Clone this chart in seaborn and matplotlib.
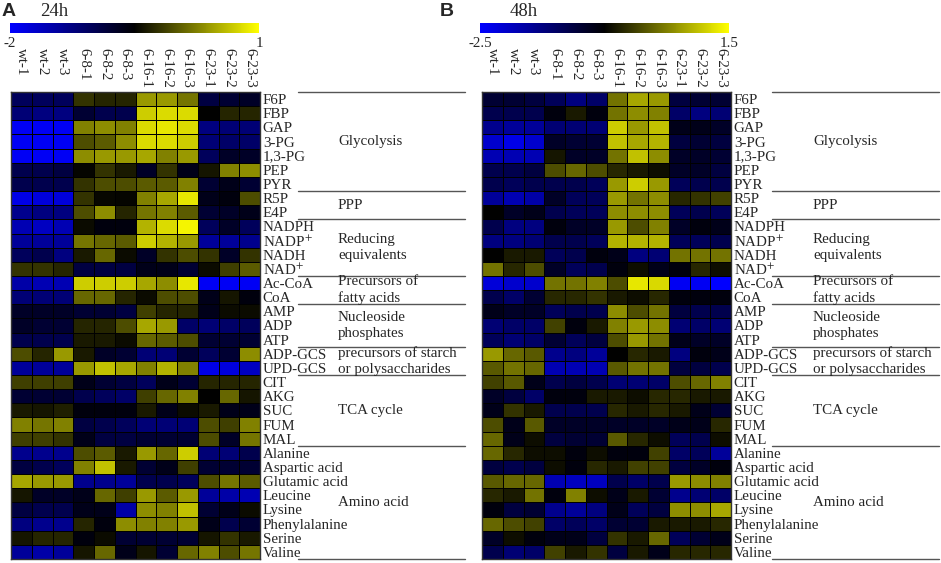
import numpy as np
import pandas as pd
import seaborn as sns
import matplotlib
matplotlib.use("Agg")
import matplotlib.pyplot as plt
from matplotlib.colors import LinearSegmentedColormap, Normalize
from matplotlib.cm import ScalarMappable
from matplotlib.transforms import blended_transform_factory
from matplotlib.lines import Line2D

# ---------------- data ----------------
samples = ["wt-1", "wt-2", "wt-3", "6-8-1", "6-8-2", "6-8-3",
           "6-16-1", "6-16-2", "6-16-3", "6-23-1", "6-23-2", "6-23-3"]

metabolites = ["F6P", "FBP", "GAP", "3-PG", "1,3-PG", "PEP", "PYR", "R5P", "E4P",
               "NADPH", "NADP$^{+}$", "NADH", "NAD$^{+}$", "Ac-CoA", "CoA", "AMP", "ADP",
               "ATP", "ADP-GCS", "UPD-GCS", "CIT", "AKG", "SUC", "FUM", "MAL",
               "Alanine", "Aspartic acid", "Glutamic acid", "Leucine", "Lysine",
               "Phenylalanine", "Serine", "Valine"]

group_names = ["Glycolysis", "PPP", "Reducing\nequivalents", "Precursors of\nfatty acids",
               "Nucleoside\nphosphates", "precursors of starch\nor polysaccharides",
               "TCA cycle", "Amino acid"]
group_bounds = [0, 7, 9, 13, 15, 18, 20, 25, 33]

values_24h = [
    [-1.03, -1.03, -1.03, -0.20, -0.28, -0.28, 0.40, 0.40, 0.18, -0.88, -0.80, -0.73],
    [-1.18, -1.25, -1.25, -0.80, -0.95, -0.95, 0.70, 0.78, 0.78, -0.50, -0.28, -0.28],
    [-1.93, -1.93, -1.93, 0.25, 0.33, 0.25, 0.78, 0.85, 0.78, -1.25, -1.18, -1.18],
    [-1.93, -1.93, -1.93, -0.05, 0.03, 0.33, 0.78, 0.78, 0.70, -1.18, -1.10, -1.10],
    [-1.93, -1.93, -1.93, 0.33, 0.40, 0.40, 0.48, 0.25, 0.40, -1.03, -0.73, -0.73],
    [-0.95, -0.95, -0.88, -0.47, -0.20, -0.35, -0.73, -0.20, -0.65, -0.38, 0.25, 0.33],
    [-0.95, -0.95, -0.95, -0.20, -0.05, -0.05, 0.03, 0.03, 0.25, -0.80, -0.65, -0.80],
    [-1.85, -1.78, -1.78, -0.20, -0.46, -0.47, 0.25, 0.48, 0.85, -0.65, -0.58, -0.05],
    [-1.33, -1.25, -1.25, -0.05, 0.33, -0.28, 0.18, 0.25, 0.03, -0.80, -0.73, -0.65],
    [-1.55, -1.63, -1.55, -0.43, -0.58, -0.58, 0.55, 0.78, 0.93, -1.03, -0.73, -1.03],
    [-1.40, -1.40, -1.40, 0.18, 0.10, 0.03, 0.70, 0.55, 0.40, -1.40, -1.40, -1.33],
    [-1.03, -0.95, -1.25, -0.35, 0.10, -0.43, -0.73, -0.20, -0.05, -0.20, -0.73, -0.20],
    [-0.20, -0.20, -0.28, -0.88, -0.88, -0.88, -0.65, -0.65, -0.80, -0.43, -0.13, 0.03],
    [-1.48, -1.55, -1.55, 0.70, 0.70, 0.70, 0.48, 0.33, 0.85, -1.93, -1.93, -1.93],
    [-1.18, -1.18, -1.18, 0.10, 0.10, -0.28, -0.43, -0.05, -0.05, -0.65, -0.38, -0.58],
    [-0.73, -0.73, -0.73, -0.80, -0.80, -0.88, -0.13, -0.28, -0.28, -0.65, -0.43, -0.43],
    [-0.73, -0.80, -0.80, -0.28, -0.28, -0.05, 0.48, 0.40, -1.10, -1.18, -1.10, -1.03],
    [-0.95, -0.95, -0.95, -0.35, -0.35, -0.43, 0.10, 0.03, -0.05, -0.80, -0.80, -0.80],
    [-0.05, -0.28, 0.40, -0.35, -0.73, -0.80, -1.18, -1.18, -0.80, -1.03, -0.80, 0.33],
    [-1.40, -1.40, -1.40, 0.40, 0.63, 0.48, 0.25, 0.55, 0.25, -1.85, -1.78, -1.63],
    [-0.13, -0.13, -0.13, -0.65, -0.80, -0.88, -1.03, -0.65, -0.80, -0.28, -0.28, -0.28],
    [-0.80, -0.80, -0.80, -0.95, -1.03, -1.10, -0.13, 0.10, 0.25, -0.50, 0.10, -0.38],
    [-0.35, -0.38, -0.32, -0.58, -0.58, -0.58, -0.35, -0.65, -0.43, -0.35, -0.65, -0.65],
    [0.25, 0.18, 0.25, -0.88, -0.95, -1.03, -1.18, -1.18, -1.18, -0.05, -0.13, 0.25],
    [-0.13, -0.13, -0.20, -0.65, -0.88, -0.88, -0.80, -0.80, -0.80, -0.05, -0.73, 0.18],
    [-1.33, -1.33, -1.33, -0.05, 0.03, -0.35, 0.40, 0.10, 0.70, -1.18, -1.18, -0.95],
    [-0.88, -0.95, -1.03, 0.25, 0.63, -0.35, -0.80, -0.65, -0.13, -0.80, -0.80, -0.80],
    [0.48, 0.40, 0.40, -1.33, -1.33, -1.40, -0.95, -0.95, -1.03, -0.05, 0.18, 0.03],
    [-0.38, -0.73, -0.73, -0.65, 0.10, -0.13, 0.40, 0.03, 0.40, -1.40, -1.48, -1.55],
    [-0.88, -0.95, -0.95, -0.65, -0.65, -1.48, 0.33, 0.25, 0.63, -0.80, -0.65, -0.43],
    [-1.25, -1.33, -1.33, -0.28, -0.58, 0.33, 0.25, 0.25, 0.40, -0.65, -0.95, -0.80],
    [-0.38, -0.28, -0.28, -0.58, -0.43, -0.80, -0.80, -0.80, -0.80, -0.38, -0.20, -0.35],
    [-1.40, -1.48, -1.40, -0.38, 0.10, -0.65, -0.38, -0.80, 0.10, 0.25, -0.05, 0.18],
]

values_48h = [
    [-0.9, -0.9, -1.0, -1.2, -1.5, -1.3, 0.4, 0.8, 0.7, -1.0, -0.9, -0.9],
    [-1.1, -1.1, -1.1, -0.6, -0.3, -0.6, 0.4, 0.6, 0.5, -1.3, -1.5, -1.4],
    [-1.6, -1.7, -1.7, -1.4, -1.4, -1.4, 1.1, 0.7, 1.0, -0.7, -0.7, -0.8],
    [-2.1, -2.3, -2.1, -0.8, -0.9, -0.9, 1.0, 0.8, 0.9, -1.0, -0.9, -1.0],
    [-1.9, -1.9, -1.9, -0.34, -0.8, -0.8, 0.4, 1.0, 0.6, -0.8, -0.8, -0.9],
    [-1.1, -1.1, -1.0, 0.1, 0.3, 0.1, -0.2, -0.3, -0.4, -0.8, -0.8, -1.0],
    [-1.1, -1.2, -1.1, -1.1, -1.1, -1.2, 0.7, 1.1, 0.7, -1.2, -1.1, -1.1],
    [-1.7, -1.9, -1.8, -0.8, -1.2, -1.2, 0.7, 0.4, 0.6, -0.2, -0.1, 0.0],
    [-0.5, -0.8, -0.7, -1.1, -1.2, -1.2, 0.6, 0.6, 0.6, -1.2, -1.1, -1.2],
    [-1.1, -1.5, -1.5, -0.6, -0.8, -0.8, 0.7, 0.1, 0.5, -0.8, -0.6, -0.7],
    [-1.5, -1.5, -1.4, -1.1, -1.1, -1.2, 0.9, 0.9, 0.9, -1.2, -1.2, -1.1],
    [-0.5, -0.3, -0.3, -1.2, -1.1, -0.6, -0.7, -1.5, -1.4, 0.4, 0.4, 0.4],
    [0.4, -0.2, 0.1, -0.8, -1.2, -1.1, -0.6, -0.4, -0.7, -0.6, -0.2, -0.4],
    [-2.2, -2.1, -2.1, 0.4, 0.4, 0.5, 0.1, 1.3, 1.2, -2.4, -2.4, -2.5],
    [-1.1, -1.3, -0.9, -0.2, -0.2, -0.1, -0.3, -0.4, -0.2, -0.6, -0.6, -0.6],
    [-0.7, -0.8, -0.8, -1.2, -1.1, -1.1, 0.6, 0.1, 0.4, -1.0, -1.1, -1.1],
    [-1.4, -1.3, -1.3, 0.0, -0.6, -0.3, 0.5, 0.7, 0.6, -1.4, -1.3, -1.4],
    [-1.2, -1.4, -1.3, -0.9, -1.2, -1.0, 0.1, 0.7, 0.4, -0.7, -0.8, -0.8],
    [0.7, 0.3, 0.2, -1.6, -1.5, -1.7, -0.5, -0.2, -0.3, -1.5, -0.6, -0.7],
    [0.2, 0.4, 0.3, -1.9, -1.9, -1.9, 0.2, 0.4, 0.4, -1.0, -1.0, -1.1],
    [0.0, 0.2, -0.7, -1.1, -1.0, -1.1, -1.4, -1.4, -1.3, 0.1, 0.3, 0.5],
    [-0.8, -1.0, -1.3, -0.6, -0.6, -0.3, -0.3, -0.4, -0.2, -0.2, -0.3, -0.3],
    [-0.7, -0.1, -0.3, -1.1, -1.1, -1.1, -0.2, -0.3, -0.2, -0.3, -0.7, -0.9],
    [0.1, -0.7, 0.2, -0.8, -0.8, -0.8, -0.8, -0.8, -0.8, -0.7, -0.7, -0.2],
    [0.3, -0.7, -0.4, -1.0, -0.9, -0.9, 0.2, -0.2, -0.4, -1.2, -1.1, -0.4],
    [0.3, -0.2, -0.4, -0.4, -0.6, -0.4, -0.6, -0.6, 0.0, -1.3, -1.2, -1.7],
    [-1.0, -1.1, -1.0, -0.4, -0.6, -0.2, -0.3, 0.0, 0.0, -1.0, -0.8, -0.6],
    [0.2, 0.3, 0.3, -1.9, -2.0, -2.0, -1.1, -1.3, -1.1, 0.7, 0.6, 0.5],
    [-0.2, -0.3, 0.4, -0.6, 0.5, -0.4, -0.7, -0.3, -0.9, -1.6, -1.4, -1.3],
    [-0.6, -1.0, -0.9, -1.6, -1.7, -1.5, -0.7, -1.2, -1.0, 0.6, 0.6, 0.8],
    [0.3, 0.1, 0.0, -1.3, -1.2, -1.3, -0.9, -0.9, -0.3, -0.3, -0.3, -0.2],
    [-0.8, -0.4, -0.6, -0.7, -0.7, -1.0, -0.1, -0.3, 0.3, -1.2, -0.9, -0.7],
    [-1.1, -1.4, -1.3, 0.0, -0.3, -0.1, -1.0, -0.3, -0.7, -0.2, -0.2, -0.2],
]

ranges = [(-2, 1), (-2.5, 1.5)]
titles = ["24h", "48h"]
letters = ["A", "B"]

# ---------------- style ----------------
sns.set_style("white")
plt.rcParams["font.family"] = ["Liberation Serif", "DejaVu Serif"]
plt.rcParams["mathtext.fontset"] = "stix"
plt.rcParams["axes.unicode_minus"] = False

W, H = 941, 563
fig = plt.figure(figsize=(W / 100, H / 100), dpi=100)
fig.patch.set_facecolor("white")


def fx(px):
    return px / W


def fy(py):
    return 1 - py / H


cmap = LinearSegmentedColormap.from_list("bky", ["#0000ff", "#000000", "#ffff00"])

layout = [
    dict(hm_left=11, cb_left=10, letter_x=2, title_x=40, line_x0=298, line_x1=465, grp_x=338),
    dict(hm_left=482, cb_left=480, letter_x=440, title_x=510, line_x0=772, line_x1=939, grp_x=813),
]

hm_top, hm_bot = 92, 559
hm_w = 249
fs = 10.8

for k, vals in enumerate([values_24h, values_48h]):
    L = layout[k]
    vmin, vmax = ranges[k]
    df = pd.DataFrame(vals, index=metabolites, columns=samples)

    ax = fig.add_axes([fx(L["hm_left"]), fy(hm_bot), hm_w / W, (hm_bot - hm_top) / H])
    sns.heatmap(df, ax=ax, cmap=cmap, vmin=vmin, vmax=vmax, cbar=False,
                linewidths=0.7, linecolor="black", xticklabels=False, yticklabels=False)
    for sp in ax.spines.values():
        sp.set_visible(True)
        sp.set_color("#333333")
        sp.set_linewidth(1.0)

    # row labels on the right
    ax.yaxis.tick_right()
    ax.set_yticks(np.arange(len(metabolites)) + 0.5)
    ax.set_yticklabels(metabolites, rotation=0, fontsize=fs)
    ax.tick_params(axis="y", length=0, pad=2)
    ax.set_xticks([])
    ax.set_xlabel("")
    ax.set_ylabel("")

    # column labels above, rotated, top-aligned
    tr = blended_transform_factory(ax.transData, fig.transFigure)
    for j, s in enumerate(samples):
        ax.text(j + 0.5, fy(48), s, transform=tr, rotation=-90, ha="center", va="top",
                fontsize=fs)

    # colorbar
    cax = fig.add_axes([fx(L["cb_left"]), fy(33), hm_w / W, 10 / H])
    cb = fig.colorbar(ScalarMappable(norm=Normalize(vmin, vmax), cmap=cmap), cax=cax,
                      orientation="horizontal", ticks=[vmin, vmax])
    cb.outline.set_visible(False)
    cb.set_ticklabels([f"{vmin:g}", f"{vmax:g}"])
    cax.tick_params(length=0, pad=3, labelsize=fs)

    # panel letter and title
    fig.text(fx(L["letter_x"]), fy(11), letters[k], fontsize=14, weight="bold",
             family=["Liberation Sans", "DejaVu Sans"], va="center", ha="left")
    fig.text(fx(L["title_x"]), fy(11), titles[k], fontsize=13.5, va="center", ha="left")

    # group separators and names
    trl = blended_transform_factory(fig.transFigure, ax.transData)
    for b in group_bounds:
        fig.add_artist(Line2D([fx(L["line_x0"]), fx(L["line_x1"])], [b, b], transform=trl,
                              color="#555555", lw=1.0, clip_on=False))
    for g, name in enumerate(group_names):
        yc = (group_bounds[g] + group_bounds[g + 1]) / 2
        fig.text(fx(L["grp_x"]), yc, name, transform=trl, fontsize=fs, ha="left",
                 va="center", linespacing=1.25)

fig.savefig("out.png", dpi=100, facecolor="white")
